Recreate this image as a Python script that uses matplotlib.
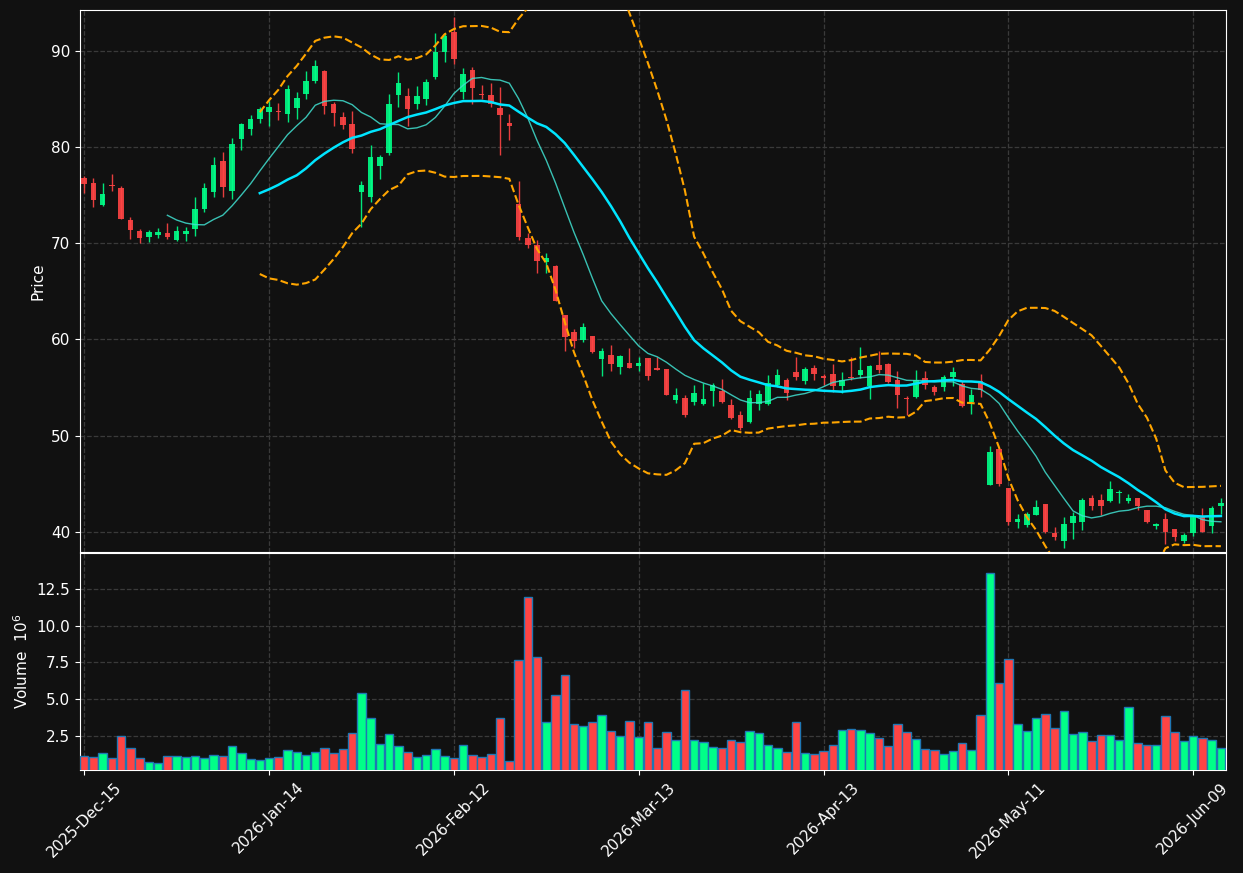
import numpy as np
import pandas as pd
import matplotlib
matplotlib.use("Agg")
import matplotlib.pyplot as plt

# trading days (NYSE calendar)
holidays = ["2025-12-25", "2026-01-01", "2026-01-19", "2026-02-16", "2026-04-03", "2026-05-25"]
dates = pd.bdate_range("2025-12-15", periods=124, freq="C", holidays=holidays)

opens = [76.78, 76.23, 73.98, 76.00, 75.71, 72.46, 71.25, 70.66, 70.87, 71.04,
         70.31, 70.93, 71.45, 73.53, 75.29, 78.51, 75.43, 80.80, 81.83, 82.87,
         83.70, 83.72, 83.45, 84.07, 85.52, 86.86, 87.86, 84.45, 83.10, 82.38,
         75.28, 74.86, 78.07, 79.38, 85.38, 85.34, 84.45, 85.00, 87.28, 89.86,
         91.93, 85.75, 88.06, 85.45, 85.45, 84.10, 82.53, 74.10, 70.52, 69.83,
         68.09, 67.64, 62.53, 60.76, 59.95, 60.35, 57.99, 58.37, 57.16, 57.54,
         57.26, 58.03, 57.02, 56.92, 53.69, 53.90, 53.45, 53.24, 54.59, 54.66,
         53.17, 52.17, 51.38, 53.28, 53.24, 55.24, 55.79, 56.62, 55.72, 57.03,
         56.21, 56.41, 55.21, 56.08, 56.32, 55.19, 57.35, 57.46, 55.81, 53.95,
         53.99, 56.01, 55.09, 55.02, 56.05, 55.36, 53.54, 55.64, 44.88, 48.58,
         44.54, 41.00, 40.69, 41.74, 42.85, 39.83, 39.03, 40.90, 41.01, 43.47,
         43.26, 43.19, 44.03, 43.19, 43.47, 42.22, 40.56, 41.28, 40.24, 39.03,
         39.90, 41.63, 40.59, 42.67]
highs = [76.99, 76.82, 76.30, 77.16, 75.99, 72.77, 71.52, 71.42, 71.63, 72.15,
         71.83, 71.66, 74.78, 76.30, 78.93, 79.52, 80.97, 82.53, 83.29, 84.15,
         84.84, 84.62, 86.48, 85.76, 87.86, 89.07, 88.03, 84.69, 83.69, 83.76,
         76.45, 80.21, 79.17, 85.55, 87.76, 86.17, 86.38, 87.10, 91.86, 91.90,
         93.52, 88.20, 88.30, 86.49, 86.67, 86.25, 83.47, 76.46, 71.04, 70.31,
         68.96, 67.74, 62.55, 61.04, 61.75, 60.38, 59.06, 59.38, 58.37, 59.06,
         58.13, 58.05, 58.13, 56.95, 54.91, 54.21, 55.24, 55.48, 55.45, 55.86,
         53.83, 52.52, 54.72, 54.76, 56.28, 56.90, 56.00, 58.14, 57.17, 57.31,
         56.45, 57.41, 56.62, 58.21, 59.18, 57.39, 58.80, 57.50, 56.70, 54.12,
         56.80, 56.77, 55.29, 56.29, 57.11, 55.64, 54.85, 56.39, 48.88, 48.60,
         44.55, 41.88, 42.08, 43.35, 42.92, 40.52, 41.56, 42.05, 43.54, 43.78,
         43.89, 45.24, 44.31, 43.96, 43.50, 42.25, 40.94, 41.98, 40.27, 39.90,
         41.60, 42.47, 42.67, 43.54]
lows = [75.26, 73.77, 73.90, 75.40, 72.50, 70.48, 70.07, 70.17, 70.59, 70.45,
        70.21, 70.21, 70.76, 73.25, 74.84, 74.84, 74.64, 79.72, 81.28, 82.49,
        82.21, 82.83, 82.62, 82.90, 85.03, 86.66, 83.48, 82.24, 81.83, 79.41,
        71.72, 74.24, 76.66, 79.14, 84.17, 82.21, 83.97, 84.38, 87.10, 88.86,
        88.69, 85.00, 84.48, 85.00, 84.13, 79.13, 80.69, 70.31, 69.55, 66.88,
        66.88, 64.00, 58.75, 59.06, 59.76, 58.61, 56.22, 56.74, 56.36, 57.00,
        56.67, 55.74, 56.78, 54.18, 53.35, 51.96, 53.17, 53.20, 53.07, 53.38,
        51.72, 50.55, 51.30, 52.66, 53.20, 55.10, 53.72, 55.76, 55.34, 55.76,
        55.24, 54.52, 54.42, 55.81, 55.98, 53.81, 56.49, 55.46, 52.89, 52.10,
        53.95, 54.85, 54.26, 54.60, 55.12, 53.00, 52.27, 53.99, 44.85, 44.78,
        40.66, 40.38, 40.52, 41.70, 39.90, 39.10, 38.33, 39.27, 40.17, 42.26,
        41.70, 43.15, 43.02, 42.95, 42.26, 40.87, 40.28, 38.68, 39.03, 38.85,
        39.55, 40.00, 39.83, 41.81]
closes = [76.16, 74.50, 75.09, 75.95, 72.53, 71.38, 70.55, 71.14, 71.18, 70.62,
          71.25, 71.28, 73.53, 75.71, 78.10, 75.85, 80.28, 82.35, 82.87, 83.91,
          84.12, 83.66, 86.00, 85.07, 86.83, 88.45, 84.28, 83.55, 82.31, 79.83,
          76.03, 78.97, 78.97, 84.45, 86.62, 83.97, 85.34, 86.72, 89.93, 91.55,
          89.14, 87.60, 86.11, 85.40, 84.48, 83.37, 82.15, 70.69, 69.83, 68.19,
          68.47, 64.03, 60.28, 59.88, 61.26, 58.70, 58.79, 57.47, 58.27, 57.05,
          57.54, 56.22, 56.81, 54.21, 54.21, 52.13, 54.41, 53.83, 55.28, 53.52,
          51.86, 50.83, 53.93, 54.34, 55.48, 56.31, 54.48, 56.10, 56.93, 56.45,
          56.03, 55.21, 55.80, 55.98, 56.84, 57.25, 56.84, 55.60, 54.19, 53.78,
          55.74, 55.22, 54.57, 56.08, 56.63, 53.06, 54.26, 54.71, 48.27, 44.95,
          41.05, 41.32, 41.81, 42.53, 39.97, 39.46, 40.76, 41.60, 43.26, 42.67,
          42.67, 44.41, 44.13, 43.47, 42.67, 41.01, 40.76, 39.97, 39.44, 39.62,
          41.53, 40.03, 42.43, 42.95]
# volume in millions
volumes = [1.14, 1.07, 1.35, 1.00, 2.50, 1.68, 1.00, 0.73, 0.67, 1.14,
           1.14, 1.07, 1.14, 1.00, 1.21, 1.14, 1.82, 1.35, 0.94, 0.87,
           1.00, 1.07, 1.55, 1.41, 1.21, 1.41, 1.68, 1.35, 1.62, 2.70,
           5.42, 3.72, 1.96, 2.64, 1.82, 1.41, 1.07, 1.21, 1.62, 1.14,
           1.00, 1.89, 1.21, 1.07, 1.28, 3.72, 0.80, 7.66, 11.94, 7.87,
           3.43, 5.28, 6.64, 3.32, 3.18, 3.45, 3.93, 2.84, 2.50, 3.52,
           2.43, 3.45, 1.68, 2.77, 2.23, 5.63, 2.23, 2.09, 1.75, 1.68,
           2.23, 2.09, 2.84, 2.70, 1.89, 1.68, 1.41, 3.45, 1.35, 1.28,
           1.48, 1.89, 2.91, 2.98, 2.91, 2.70, 2.36, 1.82, 3.32, 2.77,
           2.30, 1.62, 1.55, 1.28, 1.48, 2.02, 1.55, 3.93, 13.57, 6.10,
           7.73, 3.32, 2.84, 3.72, 3.99, 3.04, 4.20, 2.64, 2.77, 2.16,
           2.57, 2.57, 2.23, 4.47, 2.02, 1.89, 1.89, 3.86, 2.77, 2.16,
           2.50, 2.36, 2.23, 1.68]

df = pd.DataFrame({"Open": opens, "High": highs, "Low": lows,
                   "Close": closes, "Volume": volumes}, index=dates)

# indicators
ma10 = df["Close"].rolling(10).mean()
ma20 = df["Close"].rolling(20).mean()
sd20 = df["Close"].rolling(20).std(ddof=0)
bb_up = ma20 + 2 * sd20
bb_dn = ma20 - 2 * sd20

bg = "#111111"
up_col = "#00ff88"
dn_col = "#ff4444"
grid_col = "#3a3a3a"

plt.rcParams["font.size"] = 11
fig = plt.figure(figsize=(12.43, 8.73), dpi=100, facecolor=bg)
ax = fig.add_axes([0.0644, 0.3677, 0.9219, 0.6208], facecolor=bg)
axv = fig.add_axes([0.0644, 0.1180, 0.9219, 0.2486], facecolor=bg, sharex=ax)

x = np.arange(len(df))
up = df["Close"] >= df["Open"]
colors = np.where(up, up_col, dn_col)

# candles
ax.vlines(x, df["Low"], df["High"], colors=colors, linewidth=1, alpha=0.9, zorder=2)
body_lo = np.minimum(df["Open"], df["Close"])
body_h = np.maximum((df["Close"] - df["Open"]).abs(), 0.08)
ax.bar(x, body_h, bottom=body_lo, width=0.6, color=colors, alpha=0.9, linewidth=0, zorder=3)

ax.plot(x, ma10, color="#40e0d0", linewidth=1, alpha=0.85, zorder=4)
ax.plot(x, ma20, color="#00e5ff", linewidth=1.8, zorder=4)
ax.plot(x, bb_up, color="orange", linestyle="--", linewidth=1.5, zorder=4)
ax.plot(x, bb_dn, color="orange", linestyle="--", linewidth=1.5, zorder=4)

ax.set_ylim(37.9, 94.25)
ax.set_ylabel("Price", color="white")

# volume
axv.bar(x, df["Volume"], width=0.92, color=colors, edgecolor="#1f77b4", linewidth=1, zorder=3)
axv.set_ylim(0.3 * df["Volume"].min(), 1.1 * df["Volume"].max())
axv.set_yticks([2.5, 5.0, 7.5, 10.0, 12.5])
axv.set_ylabel("Volume  $10^{6}$", color="white")

tick_pos = list(range(0, len(df), 20))
axv.set_xticks(tick_pos)
axv.set_xticklabels([dates[i].strftime("%Y-%b-%d") for i in tick_pos], rotation=45, ha="center")
axv.set_xlim(-0.45, len(df) - 0.45)
plt.setp(ax.get_xticklabels(), visible=False)

for a in (ax, axv):
    a.grid(True, color=grid_col, linestyle="--", linewidth=0.9)
    a.set_axisbelow(True)
    a.tick_params(colors="white")
    for s in a.spines.values():
        s.set_color("white")

fig.savefig("out.png", dpi=100, facecolor=bg)
